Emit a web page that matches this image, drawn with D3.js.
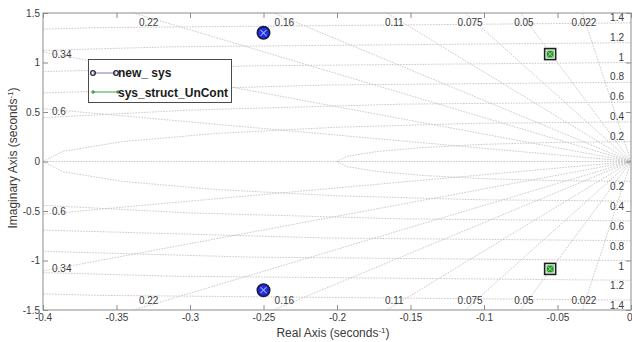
<!DOCTYPE html>
<html>
<head>
<meta charset="utf-8">
<script src="https://cdn.jsdelivr.net/npm/d3@7"></script>
<style>
  body { margin: 0; background: #fff; }
  svg { display: block; font-family: "Liberation Sans", Arial, sans-serif; }
</style>
</head>
<body>
<div id="chart"></div>
<script>
// pole / grid data
const zetaVals = [0.022, 0.05, 0.075, 0.11, 0.16, 0.22, 0.34, 0.6];
const zetaLabels = ["0.022", "0.05", "0.075", "0.11", "0.16", "0.22", "0.34", "0.6"];
const wnVals = [0.2, 0.4, 0.6, 0.8, 1.0, 1.2, 1.4];
const wnLabels = ["0.2", "0.4", "0.6", "0.8", "1", "1.2", "1.4"];
const newSysPoles = [{ re: -0.25, im: 1.3 }, { re: -0.25, im: -1.3 }];
const uncontPoles = [{ re: -0.055, im: 1.085 }, { re: -0.055, im: -1.085 }];
const xTickVals = [-0.4, -0.35, -0.3, -0.25, -0.2, -0.15, -0.1, -0.05, 0];
const xTickLabels = ["-0.4", "-0.35", "-0.3", "-0.25", "-0.2", "-0.15", "-0.1", "-0.05", "0"];
const yTickVals = [-1.5, -1, -0.5, 0, 0.5, 1, 1.5];
const yTickLabels = ["-1.5", "-1", "-0.5", "0", "0.5", "1", "1.5"];
const legendNames = ["new_ sys", "sys_struct_UnCont"];

const W = 632, H = 342;
const PLOT = { left: 43, right: 631, top: 13, bottom: 310 };
const GRID_COLOR = "#bcbcbc";
const AXIS_COLOR = "#8c8c8c";
const TEXT_COLOR = "#3a3a3a";

const svg = d3.select("#chart").append("svg").attr("width", W).attr("height", H);

const x = d3.scaleLinear().domain([-0.4, 0]).range([PLOT.left, PLOT.right]);
const y = d3.scaleLinear().domain([-1.5, 1.5]).range([PLOT.bottom, PLOT.top]);

svg.append("clipPath").attr("id", "plotclip")
  .append("rect")
  .attr("x", PLOT.left).attr("y", PLOT.top)
  .attr("width", PLOT.right - PLOT.left).attr("height", PLOT.bottom - PLOT.top);

const grid = svg.append("g").attr("clip-path", "url(#plotclip)")
  .attr("fill", "none").attr("stroke", GRID_COLOR)
  .attr("stroke-width", 0.8).attr("stroke-dasharray", "1.6,1.2");

// damping ratio rays (both halves) + real axis
const line = d3.line().x(d => x(d[0])).y(d => y(d[1]));
zetaVals.forEach(z => {
  const s = Math.sqrt(1 - z * z) / z;
  const far = -2;
  grid.append("path").attr("d", line([[0, 0], [far, -far * s]]));
  grid.append("path").attr("d", line([[0, 0], [far, far * s]]));
});
grid.append("path").attr("d", line([[0, 0], [-2, 0]]));

// natural frequency contours, coarse polylines like sgrid
const angs = d3.range(0, 181, 15).map(a => a * Math.PI / 180);
wnVals.forEach(w => {
  const pts = angs.map(a => [-w * Math.cos(a), w * Math.sin(a)]).filter(p => p[1] >= 0);
  grid.append("path").attr("d", line(pts));
  grid.append("path").attr("d", line(pts.map(p => [p[0], -p[1]])));
});

// grid labels
const lab = svg.append("g").attr("font-size", 10).attr("fill", TEXT_COLOR);
zetaVals.forEach((z, i) => {
  const s = Math.sqrt(1 - z * z) / z;
  const yl = 0.4 * s; // |y| of the ray at the left edge
  [1, -1].forEach(sg => {
    if (yl > 1.4) {
      lab.append("text")
        .attr("x", x(-1.455 / s)).attr("y", y(sg * 1.4))
        .attr("text-anchor", "middle").attr("dominant-baseline", "central")
        .text(zetaLabels[i]);
    } else {
      lab.append("text")
        .attr("x", PLOT.left + 9).attr("y", y(sg * yl) + sg * 2.5)
        .attr("dominant-baseline", "central")
        .text(zetaLabels[i]);
    }
  });
});
wnVals.forEach((w, i) => {
  [1, -1].forEach(sg => {
    lab.append("text")
      .attr("x", PLOT.right - 7).attr("y", y(sg * w) - sg * 5.5)
      .attr("text-anchor", "end").attr("dominant-baseline", "central")
      .text(wnLabels[i]);
  });
});

// axes box and ticks
const fmtX = d => xTickLabels[xTickVals.indexOf(d)];
const fmtY = d => yTickLabels[yTickVals.indexOf(d)];
function styleAxis(g) {
  g.select(".domain").remove();
  g.selectAll("line").attr("stroke", AXIS_COLOR);
  g.selectAll("text").attr("fill", TEXT_COLOR).attr("font-size", 10)
    .attr("font-family", "Liberation Sans, Arial, sans-serif");
}
const xAxisG = svg.append("g").attr("transform", `translate(0,${PLOT.bottom})`)
  .call(d3.axisBottom(x).tickValues(xTickVals).tickFormat(fmtX).tickSize(-5).tickPadding(4))
  .call(styleAxis);
// last label sits on the window edge
xAxisG.selectAll(".tick text").filter(d => d === 0).attr("text-anchor", "end").attr("dx", 1);
svg.append("g").attr("transform", `translate(0,${PLOT.top})`)
  .call(d3.axisTop(x).tickValues(xTickVals).tickFormat("").tickSize(-5))
  .call(styleAxis);
svg.append("g").attr("transform", `translate(${PLOT.left},0)`)
  .call(d3.axisLeft(y).tickValues(yTickVals).tickFormat(fmtY).tickSize(-5).tickPadding(3))
  .call(styleAxis);
svg.append("g").attr("transform", `translate(${PLOT.right},0)`)
  .call(d3.axisRight(y).tickValues(yTickVals).tickFormat("").tickSize(-5))
  .call(styleAxis);
svg.append("rect")
  .attr("x", PLOT.left).attr("y", PLOT.top)
  .attr("width", PLOT.right - PLOT.left).attr("height", PLOT.bottom - PLOT.top)
  .attr("fill", "none").attr("stroke", AXIS_COLOR).attr("stroke-width", 1);

// axis titles
const xt = svg.append("text").attr("x", 333).attr("y", 337)
  .attr("text-anchor", "middle").attr("font-size", 12).attr("fill", TEXT_COLOR);
xt.append("tspan").text("Real Axis (seconds");
xt.append("tspan").attr("baseline-shift", "super").attr("font-size", 8).text("-1");
xt.append("tspan").text(")");
const yt = svg.append("text").attr("transform", `translate(17,158) rotate(-90)`)
  .attr("text-anchor", "middle").attr("font-size", 12).attr("fill", TEXT_COLOR);
yt.append("tspan").text("Imaginary Axis (seconds");
yt.append("tspan").attr("baseline-shift", "super").attr("font-size", 8).text("-1");
yt.append("tspan").text(")");

// poles of new_ sys
const pm = svg.append("g");
newSysPoles.forEach(p => {
  const g = pm.append("g").attr("transform", `translate(${x(p.re)},${y(p.im)})`);
  g.append("circle").attr("r", 6.2).attr("fill", "#1f2fe6").attr("stroke", "#1a1a3c").attr("stroke-width", 1.6);
  g.append("path").attr("d", "M-3,-3L3,3M-3,3L3,-3").attr("stroke", "#9aa2ff").attr("stroke-width", 1.1);
});
// poles of sys_struct_UnCont
uncontPoles.forEach(p => {
  const g = pm.append("g").attr("transform", `translate(${x(p.re)},${y(p.im)})`);
  g.append("rect").attr("x", -5.5).attr("y", -5.5).attr("width", 11).attr("height", 11)
    .attr("fill", "#fff").attr("stroke", "#1e1e1e").attr("stroke-width", 1.6);
  g.append("rect").attr("x", -3.5).attr("y", -3.5).attr("width", 7).attr("height", 7).attr("fill", "#1f9a1f");
  g.append("path").attr("d", "M-3,-3L3,3M-3,3L3,-3").attr("stroke", "#8fd88f").attr("stroke-width", 1);
});

// legend
const lg = svg.append("g");
lg.append("rect").attr("x", 88.5).attr("y", 59.5).attr("width", 143).attr("height", 43)
  .attr("fill", "#fff").attr("stroke", "#4a4a4a").attr("stroke-width", 1);
lg.append("line").attr("x1", 93).attr("x2", 116).attr("y1", 73).attr("y2", 73)
  .attr("stroke", "#7a7ab4").attr("stroke-width", 1);
[93, 116].forEach(cx => lg.append("circle").attr("cx", cx).attr("cy", 73).attr("r", 2.3)
  .attr("fill", "none").attr("stroke", "#222244").attr("stroke-width", 1.3));
lg.append("line").attr("x1", 93).attr("x2", 118).attr("y1", 92).attr("y2", 92)
  .attr("stroke", "#3aa63a").attr("stroke-width", 1);
[93, 118].forEach(cx => lg.append("path")
  .attr("d", `M${cx - 2},92H${cx + 2}M${cx},90V94`).attr("stroke", "#2a8a2a").attr("stroke-width", 1));
lg.selectAll("text.lg").data(legendNames).join("text")
  .attr("x", 118).attr("y", (d, i) => 77 + i * 19.5)
  .attr("font-size", 12).attr("font-weight", "bold").attr("fill", "#1a1a1a")
  .text(d => d);
</script>
</body>
</html>
